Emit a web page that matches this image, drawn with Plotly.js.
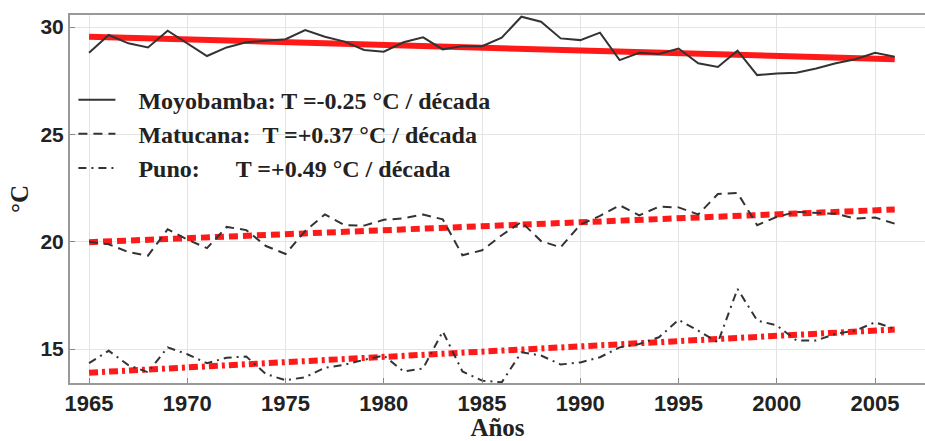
<!DOCTYPE html>
<html>
<head>
<meta charset="utf-8">
<script src="https://cdn.plot.ly/plotly-3.0.1.min.js"></script>
<style>html,body{margin:0;padding:0;background:#fff;}#chart{width:925px;height:441px;}</style>
</head>
<body>
<div id="chart"></div>
<script>
const years = [1965,1966,1967,1968,1969,1970,1971,1972,1973,1974,1975,1976,1977,1978,1979,1980,1981,1982,1983,1984,1985,1986,1987,1988,1989,1990,1991,1992,1993,1994,1995,1996,1997,1998,1999,2000,2001,2002,2003,2004,2005,2006];
const moyobamba = [28.8,29.63,29.24,29.05,29.83,29.24,28.65,29.05,29.29,29.36,29.43,29.86,29.55,29.32,28.93,28.85,29.29,29.52,28.96,29.11,29.11,29.5,30.48,30.25,29.47,29.39,29.74,28.46,28.8,28.74,29.0,28.31,28.14,28.9,27.76,27.84,27.87,28.07,28.31,28.5,28.8,28.62];
const matucana = [20.0,19.88,19.52,19.35,20.58,20.1,19.7,20.69,20.54,19.8,19.43,20.5,21.27,20.77,20.75,21.02,21.09,21.27,21.04,19.37,19.6,20.3,20.92,20.03,19.74,20.8,21.2,21.7,21.23,21.63,21.6,21.27,22.22,22.27,20.77,21.16,21.39,21.33,21.3,21.08,21.13,20.84];
const puno = [14.35,14.92,14.25,13.92,15.08,14.76,14.34,14.6,14.65,13.84,13.55,13.69,14.13,14.27,14.5,14.7,13.96,14.1,15.82,13.96,13.53,13.45,14.85,14.7,14.28,14.38,14.62,15.08,15.24,15.55,16.36,15.86,15.31,17.8,16.33,16.1,15.4,15.4,15.71,15.86,16.25,15.94];
const trendYears = [1965, 2006];
const moyobambaTrend = [29.55, 28.5];
const matucanaTrend = [19.98, 21.5];
const punoTrend = [13.9, 15.91];
const seriesNames = [
  "\u00A0\u00A0\u00A0Moyobamba: T =-0.25 °C / década",
  "\u00A0\u00A0\u00A0Matucana:\u00A0\u00A0T =+0.37 °C / década",
  "\u00A0\u00A0\u00A0Puno:\u00A0\u00A0\u00A0\u00A0\u00A0\u00A0T =+0.49 °C / década"
];
const xTicks = [1965,1970,1975,1980,1985,1990,1995,2000,2005];
const yTicks = [15,20,25,30];

const black = '#333333';
const red = '#ff1a1a';
const traces = [
  {x: trendYears, y: moyobambaTrend, mode: 'lines', line: {color: red, width: 6}, showlegend: false, hoverinfo: 'skip'},
  {x: trendYears, y: matucanaTrend, mode: 'lines', line: {color: red, width: 6, dash: '9px,5px'}, showlegend: false, hoverinfo: 'skip'},
  {x: trendYears, y: punoTrend, mode: 'lines', line: {color: red, width: 6, dash: '9px,4px,3px,4px'}, showlegend: false, hoverinfo: 'skip'},
  {x: years, y: moyobamba, mode: 'lines', name: seriesNames[0], line: {color: black, width: 2}},
  {x: years, y: matucana, mode: 'lines', name: seriesNames[1], line: {color: black, width: 2, dash: '9px,6px'}},
  {x: years, y: puno, mode: 'lines', name: seriesNames[2], line: {color: black, width: 2, dash: '8px,5px,2px,5px'}}
];

const serif = 'Liberation Serif, Times New Roman, serif';
const sans = 'Liberation Sans, Arial, sans-serif';
const layout = {
  width: 925, height: 441,
  margin: {l: 70, r: 0, t: 15, b: 58, pad: 0},
  paper_bgcolor: '#ffffff', plot_bgcolor: '#ffffff',
  showlegend: true,
  legend: {
    x: 0.004, xanchor: 'left', y: 0.83, yanchor: 'top',
    bgcolor: 'rgba(0,0,0,0)', borderwidth: 0,
    font: {family: serif, size: 24, color: '#222', weight: 'bold'},
    itemwidth: 37, traceorder: 'normal'
  },
  xaxis: {
    range: [1964.03, 2007.54], tickvals: xTicks, ticktext: xTicks.map(String),
    ticks: 'inside', ticklen: 5, tickcolor: '#888',
    showline: true, linecolor: '#999', linewidth: 2, mirror: true,
    showgrid: true, gridcolor: '#e4e4e4', gridwidth: 1, zeroline: false,
    tickfont: {family: sans, size: 22, color: '#222', weight: 'bold'},
    title: {text: 'Años', font: {family: serif, size: 25, color: '#222', weight: 'bold'}, standoff: 21}
  },
  yaxis: {
    range: [13.42, 30.56], tickvals: yTicks, ticktext: yTicks.map(String),
    ticks: 'inside', ticklen: 5, tickcolor: '#888',
    showline: true, linecolor: '#999', linewidth: 2, mirror: true,
    showgrid: true, gridcolor: '#e4e4e4', gridwidth: 1, zeroline: false,
    tickfont: {family: sans, size: 21, color: '#222', weight: 'bold'},
    title: {text: '°C', font: {family: serif, size: 25, color: '#222', weight: 'bold'}, standoff: 5}
  }
};

Plotly.newPlot('chart', traces, layout, {displayModeBar: false, staticPlot: true});
</script>
</body>
</html>
